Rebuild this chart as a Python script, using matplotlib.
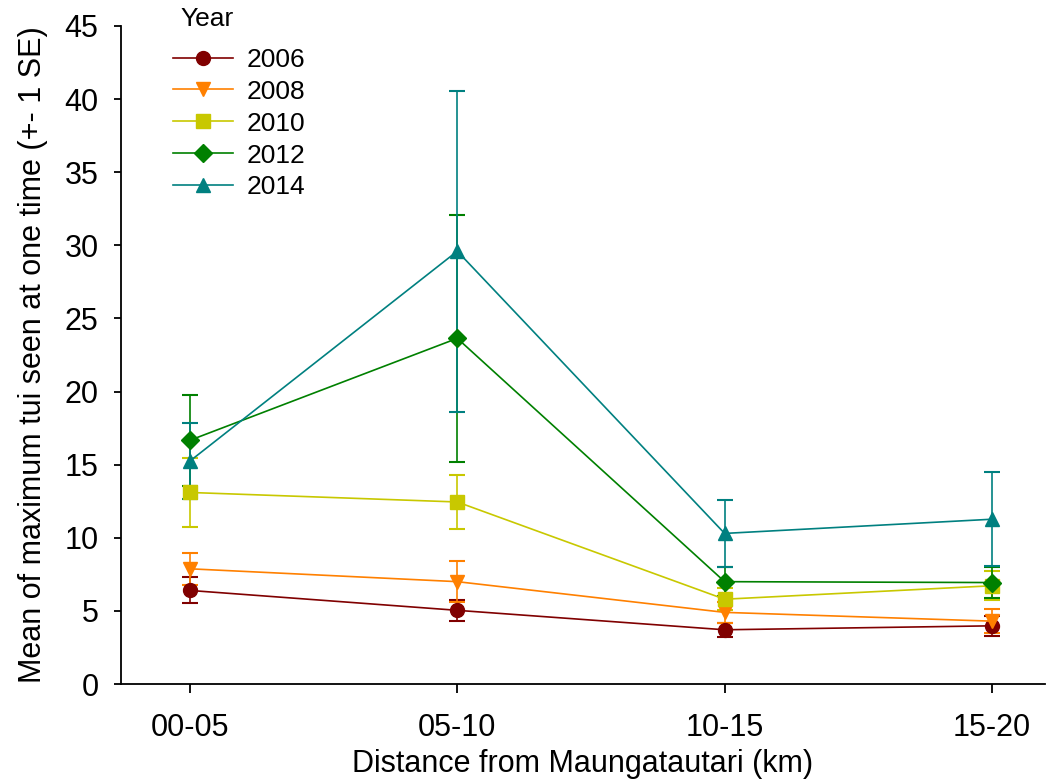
import numpy as np
import matplotlib
matplotlib.use("Agg")
import matplotlib.pyplot as plt

plt.rcParams['font.family'] = ['Liberation Sans', 'DejaVu Sans']

# data
distances = ["00-05", "05-10", "10-15", "15-20"]
years = ["2006", "2008", "2010", "2012", "2014"]

mean_2006 = [6.4, 5.04, 3.71, 3.98]
se_2006 = [0.89, 0.72, 0.48, 0.68]
mean_2008 = [7.88, 7.0, 4.9, 4.3]
se_2008 = [1.1, 1.41, 0.72, 0.8]
mean_2010 = [13.1, 12.45, 5.8, 6.72]
se_2010 = [2.35, 1.82, 0.75, 1.0]
mean_2012 = [16.67, 23.64, 7.0, 6.94]
se_2012 = [3.1, 8.46, 1.0, 1.07]
mean_2014 = [15.25, 29.6, 10.3, 11.27]
se_2014 = [2.6, 10.97, 2.28, 3.23]

means = [mean_2006, mean_2008, mean_2010, mean_2012, mean_2014]
ses = [se_2006, se_2008, se_2010, se_2012, se_2014]
colors = ["#800000", "#FF8000", "#C8C800", "#008000", "#008080"]
markers = ["o", "v", "s", "D", "^"]
msizes = [10, 10, 9.5, 9, 10]

fig = plt.figure(figsize=(10.48, 7.83), dpi=100)
ax = fig.add_axes([0.1152, 0.1264, 0.8818, 0.8404])

x = np.arange(len(distances))
handles = []
for yr, m, s, c, mk, ms in zip(years, means, ses, colors, markers, msizes):
    eb = ax.errorbar(x, m, yerr=s, color=c, marker=mk, markersize=ms,
                     markeredgecolor=c, linewidth=1.2, elinewidth=1.2,
                     capsize=6, capthick=1.5, label=yr)
    handles.append(eb[0])  # just the line + marker for the legend

ax.set_xlim(-0.259, 3.198)
ax.set_ylim(0, 45)
ax.set_yticks(np.arange(0, 46, 5))
ax.set_xticks(x)
ax.set_xticklabels(distances)

for side in ["top", "right"]:
    ax.spines[side].set_visible(False)
for side in ["left", "bottom"]:
    ax.spines[side].set_linewidth(1.3)
ax.tick_params(axis="both", direction="out", labelsize=22, width=1.3)
ax.tick_params(axis="y", length=5, pad=11)
ax.tick_params(axis="x", length=6.5, pad=14)

ax.set_xlabel("Distance from Maungatautari (km)", fontsize=22, labelpad=5)
ax.set_ylabel("Mean of maximum tui seen at one time (+- 1 SE)", fontsize=22, labelpad=12)

leg = ax.legend(handles, years, loc="upper left", bbox_to_anchor=(0.165, 0.939),
                bbox_transform=fig.transFigure, frameon=False, fontsize=19,
                handlelength=2.27, labelspacing=0.3, handletextpad=0.53,
                borderpad=0, borderaxespad=0)
fig.text(180 / 1048, 1 - 19 / 783, "Year", fontsize=19, ha="left", va="center")

fig.savefig("out.png", dpi=100)
